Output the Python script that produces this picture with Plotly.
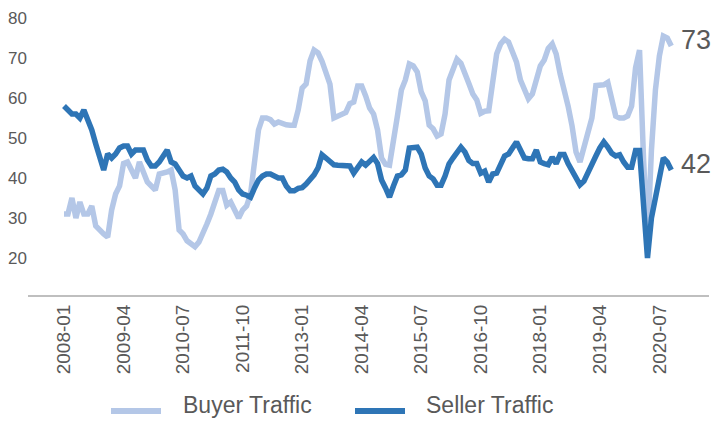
import plotly.graph_objects as go
import pandas as pd

# Monthly index, Jan 2008 – Oct 2020
months = pd.date_range("2008-01-01", "2020-10-01", freq="MS").strftime("%Y-%m").tolist()

buyer = [31, 31, 35, 30, 34, 31, 31, 33, 28, 26.8, 26, 25.2, 32, 36, 38, 43.6, 44, 42, 40, 44,
         41, 39, 38, 37, 41, 41.2, 41.5, 42, 37, 27, 26, 24.3, 23.5, 22.8, 24, 26, 28.5, 31, 34.4, 36.9,
         36.9, 33.2, 34, 32.3, 30, 32, 33, 36, 45, 52, 55, 55, 54.6, 53.5, 54, 53.5, 53.3, 53.2, 53.2, 57,
         62.5, 63.5, 69.3, 72, 71.3, 69.2, 66, 63.5, 55, 55.6, 56, 56.4, 58.6, 59, 63, 63, 60.5, 57.5, 56, 52,
         45, 43.4, 43.2, 48.5, 55.5, 62, 64.5, 68.5, 68, 66.5, 61.5, 59.3, 53.2, 52.3, 50.5, 51, 56, 64.5, 67.5, 69.7,
         68.7, 66.5, 63.6, 61, 59.5, 56.2, 56.7, 56.8, 65, 71, 73.5, 74.7, 74, 71, 69, 64.5, 62, 59.8, 61, 65,
         68, 69.5, 72.4, 73.5, 71, 66, 62.5, 58, 53, 46.5, 44, 47.5, 51.5, 55, 63.1, 63.1, 63.3, 63.9, 59.3, 55.5,
         55, 55, 55.5, 58, 67.6, 72, 45, 24, 47, 62, 70.5, 75.5, 75, 73]

seller = [58, 57, 56, 56, 55, 57, 54.5, 52, 48.5, 45, 42, 46, 45, 46, 47.5, 48, 48, 46, 47, 47,
          47, 44.5, 43, 43, 44, 45.5, 47, 44, 43.5, 42, 40.5, 40, 40.5, 38, 37, 36, 37.5, 40.5, 41, 42,
          42.2, 41.5, 40, 39, 37, 36, 35.7, 35.2, 37.5, 39.5, 40.5, 41, 41, 40.3, 40, 40, 38, 36.8, 36.8, 37.4,
          37.6, 38.5, 39.5, 40.8, 42.5, 45.8, 45, 44.2, 43.3, 43.2, 43.2, 43.2, 43, 41.2, 42.5, 44, 43.2, 44.4, 45.1, 43.6,
          39.5, 37.5, 35.2, 38, 40.5, 40.8, 42, 47.5, 47.7, 47.7, 46, 42.5, 40.5, 39.8, 38.2, 38.2, 40.5, 43.5, 45, 46.2,
          47.7, 46.5, 44.4, 43.6, 43.6, 41.2, 41.7, 39, 41, 41.2, 43.5, 45.5, 46, 47.3, 49, 47, 45, 44.8, 44.8, 47,
          44, 43.6, 43.3, 45.2, 43.6, 45.9, 45.9, 43.6, 42, 40, 38.3, 39.2, 41.5, 43.5, 45.5, 47.5, 49, 47.7, 46.2, 45.5,
          45.8, 44, 42.7, 42.7, 46.9, 46.9, 34, 20, 30, 36, 40, 45, 44, 42]

tick_labels = ["2008-01", "2009-04", "2010-07", "2011-10", "2013-01", "2014-04",
               "2015-07", "2016-10", "2018-01", "2019-04", "2020-07"]
y_ticks = [20, 30, 40, 50, 60, 70, 80]
series_names = ["Buyer Traffic", "Seller Traffic"]
end_labels = ["73", "42"]

idx = list(range(len(months)))
tick_idx = [months.index(t) for t in tick_labels]

BUYER_C = "#B4C7E7"
SELLER_C = "#2E75B6"
TXT = "#595959"
FONT = "Liberation Sans, Arial, sans-serif"

# layout geometry (pixels)
W, H = 714, 421
ML, MR, MT, MB = 28, 5, 18, 126
PW, PH = W - ML - MR, H - MT - MB


def px_to_paper_x(px):
    return (px - ML) / PW


def py_to_paper_y(py):
    return (H - MB - py) / PH


fig = go.Figure()
for name, vals, col in [(series_names[0], buyer, BUYER_C), (series_names[1], seller, SELLER_C)]:
    fig.add_trace(go.Scatter(x=idx, y=vals, mode="lines", name=name, showlegend=False,
                             line=dict(color=col, width=5.5), customdata=months,
                             hovertemplate="%{customdata}: %{y}<extra>" + name + "</extra>"))

last = idx[-1]
for val, txt in zip([buyer[-1], seller[-1]], end_labels):
    fig.add_annotation(x=last, y=val, text=txt, showarrow=False, xanchor="left",
                       xshift=8, yshift=6, font=dict(size=27, color=TXT, family=FONT))

# legend drawn as line samples + text
leg_y = py_to_paper_y(411)
for (x0, x1, tx), name, col in zip([(111, 161, 181), (355, 405, 424)], series_names,
                                   [BUYER_C, SELLER_C]):
    fig.add_shape(type="line", xref="paper", yref="paper",
                  x0=px_to_paper_x(x0), x1=px_to_paper_x(x1), y0=leg_y, y1=leg_y,
                  line=dict(color=col, width=6))
    fig.add_annotation(xref="paper", yref="paper", x=px_to_paper_x(tx), y=py_to_paper_y(420),
                       text=name, showarrow=False, xanchor="left", yanchor="bottom",
                       font=dict(size=23, color=TXT, family=FONT))

fig.update_layout(
    width=W, height=H,
    margin=dict(l=ML, r=MR, t=MT, b=MB, autoexpand=False),
    plot_bgcolor="white", paper_bgcolor="white",
    font=dict(family=FONT, color=TXT),
    showlegend=False,
    xaxis=dict(range=[-9.07, 162.5], tickmode="array", tickvals=tick_idx, ticktext=tick_labels,
               tickangle=-90, tickfont=dict(size=19, color=TXT), showgrid=False, zeroline=False,
               showline=True, linecolor="#BFBFBF", linewidth=2, ticks="", automargin=False),
    yaxis=dict(range=[10.75, 80], tickmode="array", tickvals=y_ticks, showgrid=False,
               zeroline=False, showline=False, tickfont=dict(size=17, color=TXT), ticks="",
               automargin=False),
)

fig.write_html("out.html", config={"displayModeBar": False},
               post_script="document.body.style.margin='0px';document.body.style.overflow='hidden';")
